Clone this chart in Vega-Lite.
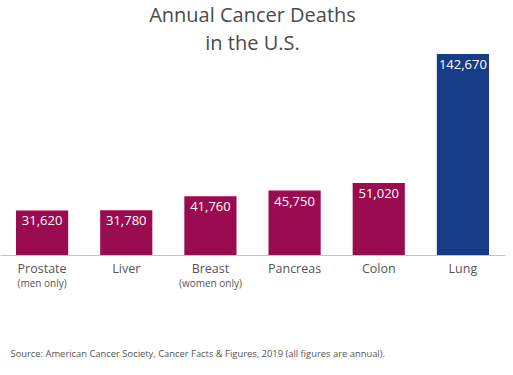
{
  "$schema": "https://vega.github.io/schema/vega-lite/v6.json",
  "width": 505,
  "height": 201,
  "autosize": "none",
  "padding": {"left": 0, "top": 54, "right": 8, "bottom": 120},
  "background": "white",
  "config": {"view": {"stroke": null}, "font": "Open Sans"},
  "title": {
    "text": ["Annual Cancer Deaths", "in the U.S."],
    "fontSize": 20,
    "font": "Open Sans",
    "fontWeight": "normal",
    "color": "#4a4a4a",
    "anchor": "middle",
    "lineHeight": 28,
    "offset": 0
  },
  "data": {
    "values": [
      {"cause": "Prostate", "deaths": 31620, "group": "other"},
      {"cause": "Liver", "deaths": 31780, "group": "other"},
      {"cause": "Breast", "deaths": 41760, "group": "other"},
      {"cause": "Pancreas", "deaths": 45750, "group": "other"},
      {"cause": "Colon", "deaths": 51020, "group": "other"},
      {"cause": "Lung", "deaths": 142670, "group": "lung"}
    ]
  },
  "encoding": {
    "y": {"field": "deaths", "type": "quantitative", "scale": {"domain": [0, 142670]}, "axis": null}
  },
  "layer": [
    {
      "mark": {"type": "bar"},
      "encoding": {
        "x": {
          "field": "cause", "type": "nominal", "sort": null,
          "scale": {"paddingInner": 0.38, "paddingOuter": 0.19},
          "axis": {
            "orient": "bottom", "title": null, "labelAngle": 0, "ticks": false,
            "labelFontSize": 12.5, "labelColor": "#555555", "labelFont": "Open Sans",
            "labelPadding": 7, "domainColor": "#c4c4c4"
          }
        },
        "color": {
          "field": "group", "type": "nominal",
          "scale": {"domain": ["other", "lung"], "range": ["#9b0b50", "#173c87"]},
          "legend": null
        }
      }
    },
    {
      "mark": {"type": "text", "color": "white", "fontSize": 13, "font": "Open Sans", "baseline": "middle", "dy": 11},
      "encoding": {
        "x": {
          "field": "cause", "type": "nominal", "sort": null,
          "axis": {
            "orient": "bottom", "domain": false, "ticks": false,
            "labelAngle": 0, "labelFontSize": 10, "labelColor": "#555555", "labelFont": "Open Sans",
            "labelPadding": 23,
            "labelExpr": "datum.value == 'Prostate' ? '(men only)' : datum.value == 'Breast' ? '(women only)' : ''",
            "title": "Source: American Cancer Society, Cancer Facts & Figures, 2019 (all figures are annual).",
            "titleAnchor": "start", "titleAlign": "left", "titleX": 10, "titleY": 98,
            "titleBaseline": "middle", "titleFontSize": 9.4, "titleFontWeight": "normal",
            "titleColor": "#555555", "titleFont": "Open Sans"
          }
        },
        "text": {"field": "deaths", "type": "quantitative", "format": ","}
      }
    }
  ],
  "resolve": {"axis": {"x": "independent"}}
}
